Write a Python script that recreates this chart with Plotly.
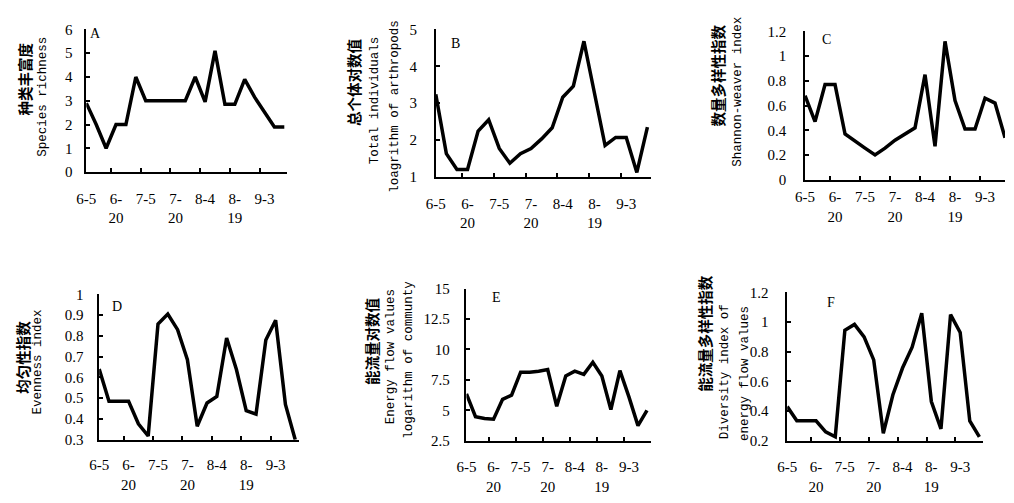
import plotly.graph_objects as go

# ---- data ----
dates = ["6-5", "6-10", "6-15", "6-20", "6-25", "6-30", "7-5", "7-10", "7-15", "7-20",
         "7-25", "7-30", "8-4", "8-9", "8-14", "8-19", "8-24", "8-29", "9-3", "9-8", "9-13"]
tick_dates = ["6-5", "6-20", "7-5", "7-20", "8-4", "8-19", "9-3"]
tick_text = ["6-5", "6-<br>20", "7-5", "7-<br>20", "8-4", "8-<br>19", "9-3"]

species_richness = [2.9, 2.0, 1.0, 2.0, 2.0, 4.0, 3.0, 3.0, 3.0, 3.0, 3.0,
                    4.0, 2.95, 5.1, 2.85, 2.85, 3.9, 3.15, 2.55, 1.9, 1.9]
total_individuals = [3.24, 1.63, 1.2, 1.2, 2.24, 2.55, 1.77, 1.37, 1.63, 1.77, 2.03,
                     2.33, 3.16, 3.46, 4.68, 3.3, 1.85, 2.07, 2.07, 1.12, 2.35]
shannon = [0.68, 0.47, 0.77, 0.77, 0.37, 0.31, 0.255, 0.2, 0.255, 0.32, 0.37,
           0.42, 0.85, 0.27, 1.12, 0.64, 0.41, 0.41, 0.66, 0.62, 0.34]
evenness = [0.64, 0.485, 0.485, 0.485, 0.377, 0.318, 0.857, 0.905, 0.83, 0.685, 0.365,
            0.477, 0.508, 0.79, 0.638, 0.44, 0.423, 0.78, 0.875, 0.47, 0.3]
energy_flow = [6.35, 4.47, 4.32, 4.26, 5.9, 6.24, 8.13, 8.13, 8.21, 8.34, 5.32,
               7.82, 8.21, 7.95, 8.95, 7.82, 5.05, 8.26, 6.1, 3.74, 5.0]
energy_div = [0.43, 0.334, 0.334, 0.334, 0.26, 0.226, 0.945, 0.984, 0.9, 0.745, 0.25,
              0.51, 0.69, 0.83, 1.06, 0.464, 0.28, 1.05, 0.93, 0.334, 0.226]

# page is 1014x503; the browser body keeps its default 8px margin
PAGE_MARGIN = 8
W, H = 1014 - 2 * PAGE_MARGIN, 503 - 2 * PAGE_MARGIN


def fx(px):
    return (px - PAGE_MARGIN) / W


def fy(py):
    return 1 - (py - PAGE_MARGIN) / H


panels = [
    dict(letter="A", y=species_richness, xpx=(77, 280), ypx=(22, 170), yr=(0, 6), dtick=1, xmax=20.3,
         lpos=(86, 26), ystand=9, xstand=12,
         titles=[("种类丰富度", 15, 73, "cjk"), ("Species richness", 33, 92, "mono")]),
    dict(letter="B", y=total_individuals, xpx=(430, 647), ypx=(22, 175), yr=(1, 5), dtick=1, xmax=20.3,
         lpos=(450, 37), ystand=14, xstand=12,
         titles=[("总个体对数值", 347, 77, "cjk"), ("Total individuals", 368, 95, "mono"),
                 ("loagrithm of arthropods", 388, 102, "mono")]),
    dict(letter="C", y=shannon, xpx=(803, 1005), ypx=(24, 178), yr=(0, 1.2), dtick=0.2, xmax=20.0,
         lpos=(825, 32), ystand=14, xstand=3,
         titles=[("数量多样性指数", 715, 70, "cjk"), ("Shannon-weaver index", 735, 87, "mono")]),
    dict(letter="D", y=evenness, xpx=(90, 292), ypx=(297, 448), yr=(0.3, 1.0), dtick=0.1, xmax=20.4,
         lpos=(108, 310), ystand=11, xstand=11,
         titles=[("均匀性指数", 13, 362, "cjk"), ("Evenness index", 28, 367, "mono")]),
    dict(letter="E", y=energy_flow, xpx=(461, 647), ypx=(291, 449), yr=(2.5, 15), dtick=2.5, xmax=20.4,
         lpos=(491, 300), ystand=12, xstand=12,
         titles=[("能流量对数值", 365, 345, "cjk"), ("Energy flow values", 385, 362, "mono"),
                 ("logarithm of communty", 403, 365, "mono")]),
    dict(letter="F", y=energy_div, xpx=(785, 983), ypx=(295, 449), yr=(0.2, 1.2), dtick=0.2, xmax=20.4,
         lpos=(829, 305), ystand=14, xstand=12,
         titles=[("能流量多样性指数", 702, 338, "cjk"), ("Diversity index of", 723, 377, "mono"),
                 ("energy flow values", 743, 379, "mono")]),
]

x_idx = list(range(len(dates)))
tick_idx = [dates.index(d) for d in tick_dates]

fig = go.Figure()
annotations = []
tick_font = dict(family="Liberation Serif", size=15, color="black")

for i, p in enumerate(panels, start=1):
    sfx = "" if i == 1 else str(i)
    fig.add_trace(go.Scatter(
        x=x_idx, y=p["y"], mode="lines", xaxis="x" + sfx, yaxis="y" + sfx,
        line=dict(color="black", width=3.5), cliponaxis=False, showlegend=False,
        hoverinfo="skip"))
    x0, x1 = p["xpx"]
    yt, yb = p["ypx"]
    fig.layout["xaxis" + sfx] = dict(
        domain=[fx(x0), fx(x1)], anchor="y" + sfx, range=[0, p["xmax"]],
        tickmode="array", tickvals=tick_idx, ticktext=tick_text, ticks="",
        showline=True, linecolor="black", linewidth=1.5, showgrid=False, zeroline=False,
        tickfont=tick_font, ticklabelstandoff=p["xstand"],
        minor=dict(ticks="inside", tick0=2.5, dtick=3, ticklen=4, tickwidth=1.5,
                   tickcolor="black", showgrid=False),
        fixedrange=True)
    fig.layout["yaxis" + sfx] = dict(
        domain=[fy(yb), fy(yt)], anchor="x" + sfx, range=list(p["yr"]),
        tickmode="linear", tick0=p["yr"][0], dtick=p["dtick"], ticks="inside", ticklen=4,
        tickwidth=1.5, tickcolor="black",
        showline=True, linecolor="black", linewidth=1.5, showgrid=False, zeroline=False,
        tickfont=tick_font, ticklabelstandoff=p["ystand"], fixedrange=True)
    annotations.append(dict(
        text=p["letter"], x=fx(p["lpos"][0]), y=fy(p["lpos"][1]), xref="paper", yref="paper",
        xanchor="center", yanchor="middle", showarrow=False,
        font=dict(family="Liberation Serif", size=14, color="black")))
    for text, tx, ty, kind in p["titles"]:
        if kind == "cjk":
            font = dict(family="Noto Sans CJK SC", size=14.5, color="black")
            text = "<b>" + text + "</b>"
        else:
            font = dict(family="Liberation Mono", size=12.5, color="black")
        annotations.append(dict(
            text=text, x=fx(tx), y=fy(ty), xref="paper", yref="paper",
            xanchor="center", yanchor="middle", textangle=-90, showarrow=False, font=font))

fig.update_layout(
    width=W, height=H, margin=dict(l=0, r=0, t=0, b=0),
    paper_bgcolor="white", plot_bgcolor="white", annotations=annotations,
    showlegend=False)

fig.write_html("out.html", config={"displayModeBar": False})
